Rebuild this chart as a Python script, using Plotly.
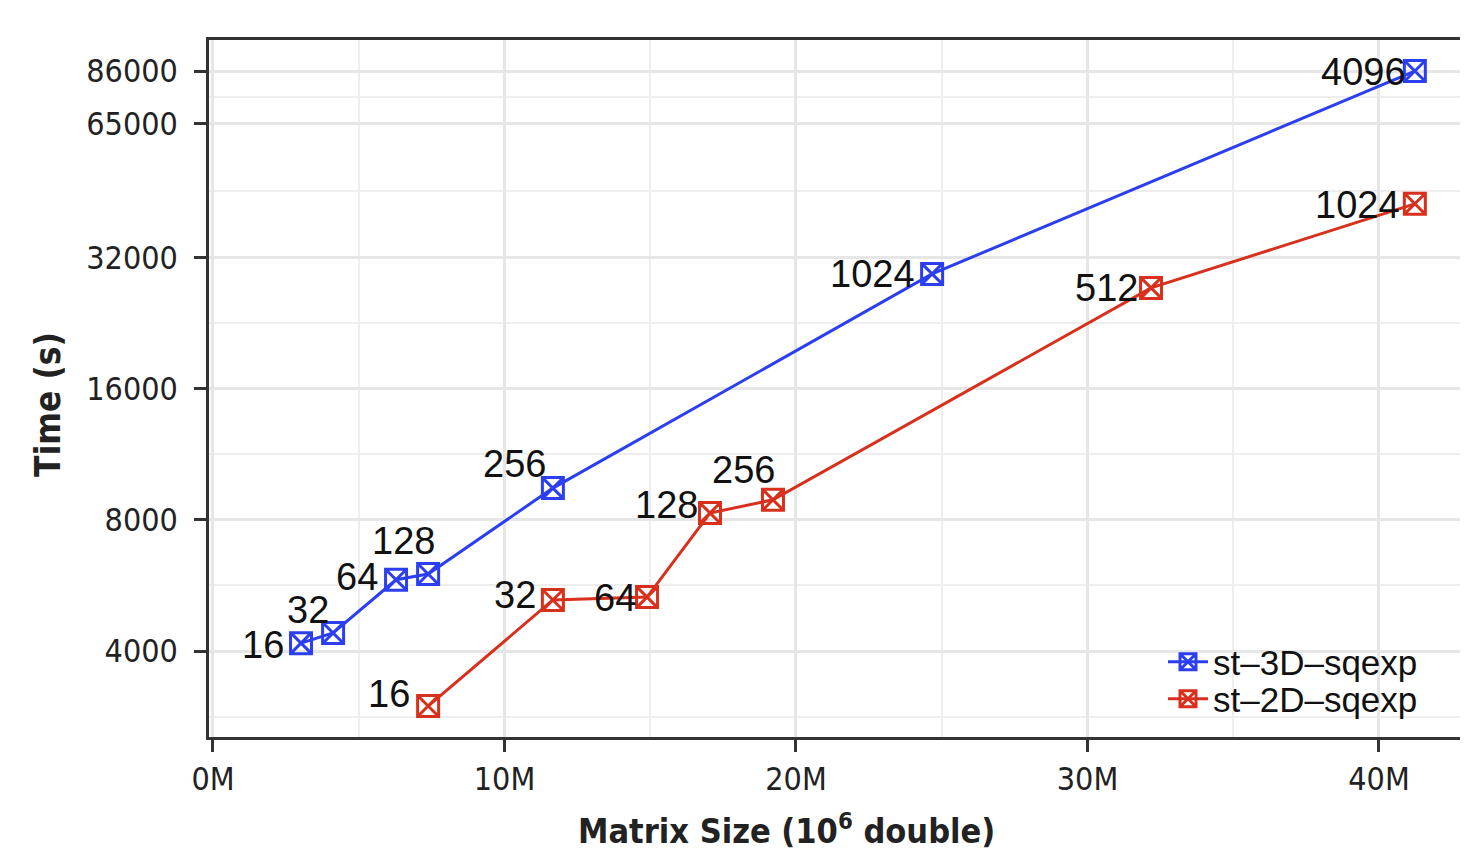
import numpy as np
import plotly.graph_objects as go

# ---- data (matrix size in millions of doubles, time in seconds) ----
series_names = ["st–3D–sqexp", "st–2D–sqexp"]

x_3d = [3.02, 4.12, 6.28, 7.38, 11.66, 24.67, 41.23]
t_3d = [4170, 4400, 5830, 6010, 9470, 29400, 86000]
lbl_3d = ["16", "32", "64", "128", "256", "1024", "4096"]

x_2d = [7.38, 11.66, 14.89, 17.05, 19.21, 32.18, 41.23]
t_2d = [2990, 5240, 5320, 8300, 8900, 27300, 42600]
lbl_2d = ["16", "32", "64", "128", "256", "512", "1024"]

y_tick_vals = [4000, 8000, 16000, 32000, 65000, 86000]
y_tick_text = ["4000", "8000", "16000", "32000", "65000", "86000"]
x_tick_vals = [0, 10, 20, 30, 40]
x_tick_text = ["0M", "10M", "20M", "30M", "40M"]

# ---- styling ----
BLUE = "#2b3ff0"
RED = "#d8301c"
LABEL_FONT = "Liberation Sans, Arial, Helvetica, sans-serif"
NARROW = "DejaVu Sans Condensed, Liberation Sans Narrow, sans-serif"

# label offsets in pixels (dx, dy) relative to each point; text anchored at right-middle
off_3d = [(-15, -2), (-2, 23), (-16, 3), (9, 33), (-5, 24), (-15, 0), (-7, -1)]
off_2d = [(-16, 12), (-15, 5), (-9, -1), (-10, 8), (4, 30), (-11, 0), (-13, -1)]

# page body margin shifts the figure by 8px; layout is computed in screen pixels
OFF = 8
W, H = 1468, 853
L = 209 - OFF
T = 40 - OFF
R = 0
B = H - (737 - OFF)
pw, ph = W - L - R, H - T - B
PX_PER_M = 29.15
x0 = -0.137
x1 = x0 + pw / PX_PER_M


def px_x(sx):
    return (sx - OFF - L) / pw


def px_y(sy):
    return 1 - (sy - OFF - T) / ph


fig = go.Figure()
legends = ["legend", "legend2"]
for name, xs, ys, col, lg in [(series_names[0], x_3d, t_3d, BLUE, legends[0]),
                              (series_names[1], x_2d, t_2d, RED, legends[1])]:
    fig.add_trace(go.Scatter(
        x=xs, y=ys, name=name, mode="lines+markers", legend=lg,
        line=dict(color=col, width=3),
        marker=dict(symbol="square-x-open", size=21, color=col,
                    line=dict(width=3, color=col)),
    ))

annotations = []
for xs, ys, labels, offs in [(x_3d, t_3d, lbl_3d, off_3d), (x_2d, t_2d, lbl_2d, off_2d)]:
    for xv, yv, lb, (dx, dy) in zip(xs, ys, labels, offs):
        annotations.append(dict(
            x=xv, y=np.log10(yv), xref="x", yref="y", text=lb, showarrow=False,
            xanchor="right", yanchor="middle", xshift=dx, yshift=dy,
            font=dict(family=LABEL_FONT, size=38, color="#111111"),
        ))

# axis titles
annotations.append(dict(
    x=px_x(786), y=px_y(829), xref="paper", yref="paper",
    text="Matrix Size (10<sup>6</sup> double)", showarrow=False,
    xanchor="center", yanchor="middle",
    font=dict(family=NARROW, size=34, color="#222222", weight="bold"),
))
annotations.append(dict(
    x=px_x(48), y=px_y(405), xref="paper", yref="paper",
    text="Time (s)", showarrow=False, textangle=-90,
    xanchor="center", yanchor="middle",
    font=dict(family=NARROW, size=35, color="#222222", weight="bold"),
))

y_minor = [4000 / np.sqrt(2)] + [np.sqrt(a * b) for a, b in
                                 zip(y_tick_vals[:-1], y_tick_vals[1:])]

legend_style = dict(
    xanchor="left", yanchor="middle", bgcolor="rgba(0,0,0,0)",
    font=dict(family=LABEL_FONT, size=35, color="#111111"),
    itemwidth=40, tracegroupgap=0,
)

fig.update_layout(
    width=W, height=H,
    margin=dict(l=L, r=R, t=T, b=B, autoexpand=False),
    paper_bgcolor="white", plot_bgcolor="white",
    showlegend=True,
    legend=dict(x=px_x(1163), y=px_y(662), **legend_style),
    legend2=dict(x=px_x(1163), y=px_y(699), **legend_style),
    annotations=annotations,
)

fig.update_xaxes(
    range=[x0, x1], tickvals=x_tick_vals, ticktext=x_tick_text,
    automargin=False,
    showgrid=True, gridcolor="#e6e6e6", gridwidth=2.5,
    minor=dict(tickvals=[5, 15, 25, 35], showgrid=True, gridcolor="#eeeeee",
               gridwidth=1.5, ticks=""),
    showline=True, linecolor="#333333", linewidth=2.5, mirror=True,
    ticks="outside", ticklen=12, tickwidth=3, tickcolor="#333333",
    tickfont=dict(family=NARROW, size=32, color="#222222"),
    zeroline=False,
)
fig.update_yaxes(
    type="log", range=[np.log10(2538), np.log10(101330)],
    tickvals=y_tick_vals, ticktext=y_tick_text,
    automargin=False,
    showgrid=True, gridcolor="#e6e6e6", gridwidth=2.5,
    minor=dict(tickvals=y_minor, showgrid=True, gridcolor="#eeeeee",
               gridwidth=1.5, ticks=""),
    showline=True, linecolor="#333333", linewidth=2.5, mirror=False,
    ticks="outside", ticklen=12, tickwidth=3, tickcolor="#333333",
    ticklabelstandoff=10,
    tickfont=dict(family=NARROW, size=32, color="#222222"),
    zeroline=False,
)

fig.write_html("out.html")
